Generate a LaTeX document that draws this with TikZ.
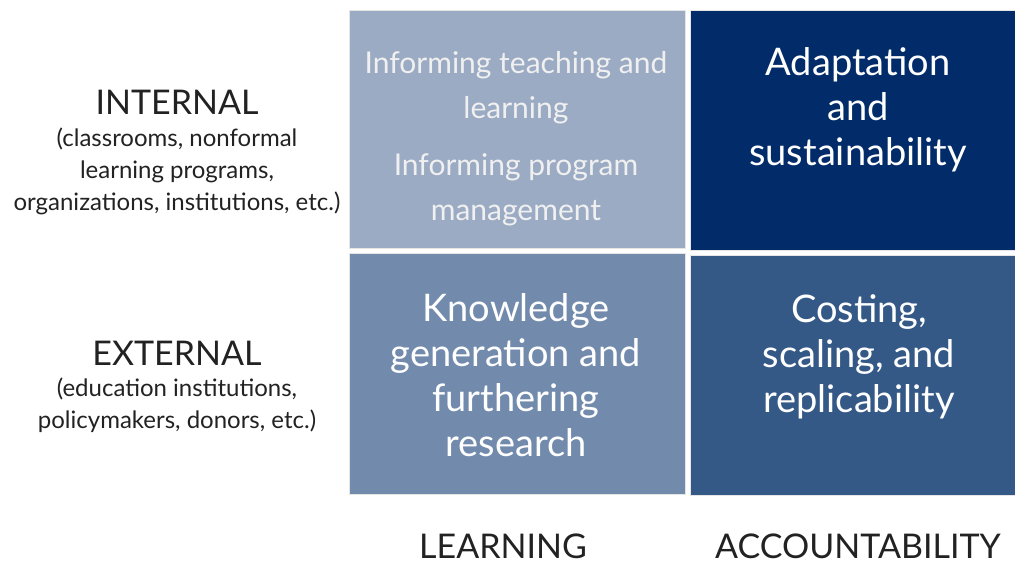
\documentclass[tikz,border=0pt]{standalone}
\usepackage{fontspec}
\setmainfont{Lato}
\usetikzlibrary{positioning}

\definecolor{paleblue}{HTML}{9BABC4}
\definecolor{navyblue}{HTML}{012B69}
\definecolor{midblue}{HTML}{728BAD}
\definecolor{deepblue}{HTML}{355987}
\definecolor{labelgray}{HTML}{222222}

\begin{document}
\begin{tikzpicture}[
            x=1pt, y=-1pt,
            cell/.style={rectangle, draw=white!80!gray, line width=0.6pt, inner sep=0pt},
            celltext/.style={text=white, align=center, font=\fontsize{38}{45}\selectfont},
            smalltext/.style={text=white!94!black, align=center, font=\fontsize{30}{45}\selectfont},
            head/.style={text=labelgray, align=center, inner sep=1pt, font=\fontsize{34}{36}\selectfont},
            sub/.style={text=labelgray, align=center, font=\fontsize{24}{32}\selectfont}]

            \useasboundingbox (0,0) rectangle (1015,568);

            % the four cells
            \node[cell, fill=paleblue, minimum width=336pt, minimum height=238pt] (teach) at (517,129) {};
            \node[cell, fill=navyblue, minimum width=326pt, minimum height=240pt] (adapt) at (853,130) {};
            \node[cell, fill=midblue, minimum width=336pt, minimum height=241pt] (know) at (517,373.5) {};
            \node[cell, fill=deepblue, minimum width=326pt, minimum height=240pt] (cost) at (853,375) {};

            % cell texts
            \node[smalltext] (teachtxt) at (516,88) {Informing teaching and\\learning};
            \node[smalltext] (progtxt) at (516,190) {Informing program\\management};
            \node[celltext] (adapttxt) at (858,110) {Adaptation\\and\\sustainability};
            \node[celltext] (knowtxt) at (516,375) {Knowledge\\generation and\\furthering\\research};
            \node[celltext] (costtxt) at (859,357) {Costing,\\scaling, and\\replicability};

            % row labels
            \node[head] (internal) at (177,102) {INTERNAL};
            \node[sub] (internalsub) at (177,171) {(classrooms, nonformal\\learning programs,\\organizations, institutions, etc.)};
            \node[head] (external) at (177,353) {EXTERNAL};
            \node[sub] (externalsub) at (177,405) {(education institutions,\\policymakers, donors, etc.)};

            % column labels
            \node[head] (learning) at (503,546) {LEARNING};
            \node[head] (account) at (858,546) {ACCOUNTABILITY};
        \end{tikzpicture}
\end{document}
